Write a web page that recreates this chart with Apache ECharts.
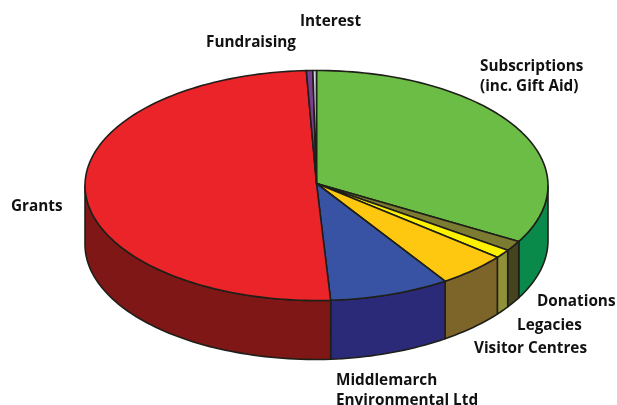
<!DOCTYPE html>
<html><head><meta charset="utf-8">
<style>html,body{margin:0;padding:0;background:#fff}#c{width:617px;height:405px}</style>
<script src="https://cdn.jsdelivr.net/npm/echarts@6/dist/echarts.min.js"></script></head>
<body><div id="c"></div><script>
const names=['Subscriptions\n(inc. Gift Aid)','Donations','Legacies','Visitor Centres','Middlemarch\nEnvironmental Ltd','Grants','Fundraising','Interest'];
const values=[33.1,1.45,1.2,4.9,8.4,50.3,0.45,0.25];
const topColors=['#6cbd45','#7b7b32','#fff200','#fec710','#3953a4','#ea2428','#7a3f8f','#d4d4e2'];
const wallColors=['#0a8a4a','#46441f','#8f9038','#7d6428','#2b2a78','#7f1717','#4a2a5a','#888'];
const labelX=[480,537,517,474,336,11,206,300];
const labelY=[65,300,324,347,379,205,41,20];

const cx=316.5,cy=185.5,rx=231.5,ry=115,line='#1f1f1a';
const depthOf=t=>t<176?55+4*(t-90)/86:59;
const total=values.reduce((a,b)=>a+b,0);
let acc=0;
const spans=values.map(v=>{const s=acc/total*360;acc+=v;return [s,acc/total*360];});
const pt=(t,low)=>{const r=t*Math.PI/180;return [cx+rx*Math.sin(r),cy-ry*Math.cos(r)+(low?depthOf(t):0)];};
function arc(a,b,low){const n=Math.max(1,Math.ceil((b-a)/1.5)),o=[];for(let i=0;i<=n;i++)o.push(pt(a+(b-a)*i/n,low));return o;}
const shape=(points,fill)=>({type:'polygon',shape:{points},style:{fill,stroke:line,lineWidth:1.6,lineJoin:'round'}});

function renderWall(p,api){
  const i=api.value(0),[s,e]=spans[i],a=Math.max(s,90),b=Math.min(e,270);
  if(a>=b)return {type:'group',children:[]};
  return shape(arc(a,b,false).concat(arc(a,b,true).reverse()),wallColors[i]);
}
function renderTop(p,api){
  const i=api.value(0),[s,e]=spans[i];
  return shape([[cx,cy-2]].concat(arc(s,e,false)),topColors[i]);
}
const idx=values.map((v,i)=>[i]);
const chart=echarts.init(document.getElementById('c'),null,{renderer:'canvas'});
chart.setOption({
  animation:false,backgroundColor:'#fff',
  series:[
    {type:'custom',coordinateSystem:'none',renderItem:renderWall,data:idx,z:1,silent:true},
    {type:'custom',coordinateSystem:'none',renderItem:renderTop,data:idx,z:2,silent:true}
  ],
  graphic:names.map((n,i)=>({type:'text',left:labelX[i],top:labelY[i]-8,z:5,
    style:{text:n,fill:'#111',font:'bold 15.3px "Open Sans", sans-serif',lineHeight:19.5}}))
});
</script></body></html>
